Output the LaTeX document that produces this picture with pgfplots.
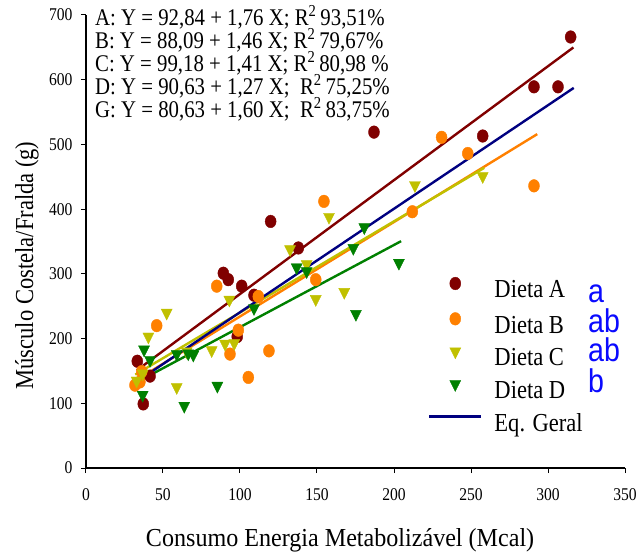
\documentclass[border=0pt]{standalone}
\usepackage{fontspec}
\setmainfont[FakeStretch=0.87]{Liberation Serif}
\newfontfamily\xlabfont[FakeStretch=0.93]{Liberation Serif}
\newfontfamily\bluefont[FakeStretch=0.87]{Liberation Sans}
\usepackage{pgfplots}
\pgfplotsset{compat=1.18}
\definecolor{cA}{RGB}{128,0,0}
\definecolor{cB}{RGB}{255,128,0}
\definecolor{cC}{RGB}{192,192,0}
\definecolor{cD}{RGB}{0,128,0}
\definecolor{cG}{RGB}{0,0,128}
\definecolor{cLet}{RGB}{10,10,255}
\begin{document}
\begin{tikzpicture}
\begin{axis}[
  scale only axis, width=539bp, height=453bp,
  at={(0,0)}, anchor=south west,
  xmin=0, xmax=350, ymin=0, ymax=700,
  axis lines=left, axis line style={-, line width=1.6bp},
  xtick={0,50,...,350}, ytick={0,100,...,700},
  tick align=outside, major tick length=5bp,
  tick style={line width=1bp, black},
  /pgf/number format/assume math mode=true,
  tick label style={font=\fontsize{18}{18}\selectfont},
  xticklabel style={yshift=-12bp},
  yticklabel style={xshift=-5bp},
  clip=false,
  legend image code/.code={\draw[mark repeat=2,mark phase=2,#1] plot coordinates {(0bp,8.5bp)(26bp,8.5bp)(52bp,8.5bp)};},
  legend style={at={(axis cs:222,295.2)}, anchor=north west, draw=none, fill=none,
    font=\fontsize{26}{26}\selectfont, inner sep=0pt, column sep=12bp, row sep=8.5bp,
    nodes={inner sep=0pt, text height=18bp, text depth=6bp}},
  legend cell align=left,
]
% Dieta A
\addplot[only marks, mark=*, mark size=5.5bp, color=cA, mark options={yscale=1.15}] coordinates {
(314.7,666) (290.9,589) (306.5,589) (257.6,513) (187,519) (119.9,381) (137.9,340)
(89.2,301) (92.4,291) (101.1,281) (109.1,267) (98.2,203) (33.3,165) (41.6,142) (37.2,99)
};
\addlegendentry{Dieta A}
% Dieta B
\addplot[only marks, mark=*, mark size=5.5bp, color=cB, mark options={yscale=1.15}] coordinates {
(230.9,511) (247.9,486) (211.9,396) (290.9,436) (154.5,412) (149.2,291) (111.9,265)
(84.9,281) (98.9,213) (45.9,220) (36.2,149) (31.8,128) (35,133) (93.5,176) (118.8,181) (105.4,140)
};
\addlegendentry{Dieta B}
% Dieta C
\addplot[only marks, mark=triangle*, mark size=6.35bp, color=cC, mark options={rotate=180, yscale=1.15}] coordinates {
(213.6,437) (257.6,451) (157.8,388) (132.5,338) (143.3,315) (93.1,260) (149.2,261)
(167.7,272) (52.4,240) (40.5,203) (32.9,135) (36.8,146) (58.9,125) (65.4,180)
(81.6,182) (90.3,192) (96.3,193)
};
\addlegendentry{Dieta C}
% Dieta D
\addplot[only marks, mark=triangle*, mark size=6.35bp, color=cD, mark options={rotate=180, yscale=1.15}] coordinates {
(180.7,372) (173.6,340) (136.8,310) (143.3,304) (109.1,247) (203.2,317) (175.3,238)
(37.7,183) (41.6,167) (36.8,113) (58.9,176) (66.4,177) (69.7,175) (85.3,127) (63.8,96)
};
\addlegendentry{Dieta D}
% regression lines
\addplot[cA, line width=2.4bp, forget plot] coordinates {(33,150.9) (316.5,649.9)};
\addplot[cB, line width=2.4bp, forget plot] coordinates {(31,133.4) (293,515.9)};
\addplot[cC, line width=2.4bp, forget plot] coordinates {(32,144.3) (258.6,463.8)};
\addplot[cD, line width=2.4bp, forget plot] coordinates {(36,136.4) (204.6,350.5)};
\addplot[cG, line width=2.4bp] coordinates {(31.4,130.9) (316.7,587.3)};
\addlegendentry{Eq. Geral}
% equations
\begin{scope}[every node/.style={anchor=base west, inner sep=0pt, font=\fontsize{24}{24}\selectfont}]
\node at (axis cs:5.8,683.3) {A: Y = 92,84 + 1,76 X; R\textsuperscript{2}\,93,51\%};
\node at (axis cs:5.8,647.6) {B: Y = 88,09 + 1,46 X; R\textsuperscript{2}\,79,67\%};
\node at (axis cs:5.8,612.1) {C: Y = 99,18 + 1,41 X; R\textsuperscript{2}\,80,98 \%};
\node at (axis cs:5.8,576.5) {D: Y = 90,63 + 1,27 X;\ \ R\textsuperscript{2}\,75,25\%};
\node at (axis cs:5.8,541.0) {G: Y = 80,63 + 1,60 X;\ \ R\textsuperscript{2}\,83,75\%};
\end{scope}
% significance letters
\begin{scope}[every node/.style={anchor=base west, inner sep=0pt, text=cLet, font=\bluefont\fontsize{33}{33}\selectfont}]
\node at (axis cs:326,255.5) {a};
\node at (axis cs:326,209) {ab};
\node at (axis cs:326,164) {ab};
\node at (axis cs:326,116) {b};
\end{scope}
% axis titles
\node[anchor=base, inner sep=0pt, font=\xlabfont\fontsize{26}{26}\selectfont] at (axis cs:165,-122) {Consumo Energia Metabolizável (Mcal)};
\node[anchor=base, rotate=90, inner sep=0pt, font=\fontsize{26}{26}\selectfont] at (axis cs:-34.4,313) {Músculo Costela/Fralda (g)};
\end{axis}
\pgfresetboundingbox
\useasboundingbox (-86bp,-86bp) rectangle (555bp,468bp);
\end{tikzpicture}
\end{document}
